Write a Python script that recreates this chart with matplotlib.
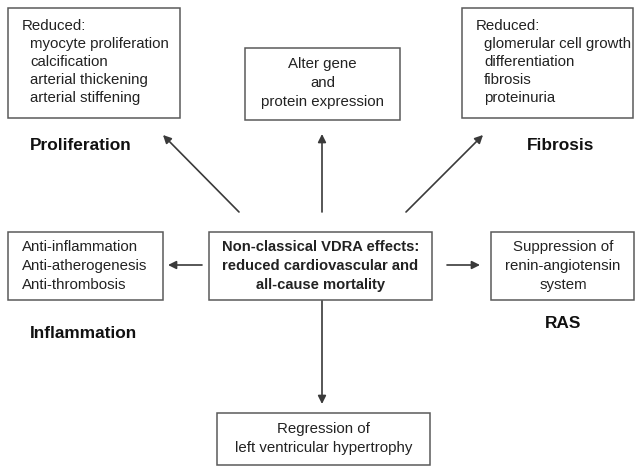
import matplotlib
matplotlib.use("Agg")
import matplotlib.pyplot as plt
from matplotlib.patches import Rectangle, FancyArrowPatch

plt.rcParams['font.family'] = ['Liberation Sans', 'DejaVu Sans']

# ---- content ----
center_text = ["Non-classical VDRA effects:", "reduced cardiovascular and", "all-cause mortality"]
prolif_lines = ["Reduced:", "myocyte proliferation", "calcification", "arterial thickening", "arterial stiffening"]
gene_lines = ["Alter gene", "and", "protein expression"]
fibrosis_lines = ["Reduced:", "glomerular cell growth", "differentiation", "fibrosis", "proteinuria"]
inflam_lines = ["Anti-inflammation", "Anti-atherogenesis", "Anti-thrombosis"]
ras_lines = ["Suppression of", "renin-angiotensin", "system"]
lvh_lines = ["Regression of", "left ventricular hypertrophy"]
category_labels = ["Proliferation", "Fibrosis", "Inflammation", "RAS"]

W, H = 640, 467
fig = plt.figure(figsize=(6.4, 4.67), dpi=100)
ax = fig.add_axes([0, 0, 1, 1])
ax.set_xlim(0, W)
ax.set_ylim(H, 0)
ax.axis('off')

edge = '#5a5a5a'
tc = '#222222'
fs = 10.8

def box(x0, y0, x1, y1):
    ax.add_patch(Rectangle((x0, y0), x1 - x0, y1 - y0, fill=False,
                           edgecolor=edge, linewidth=1.1))

def lines(texts, x, ys, ha='left', bold=False, indent=None, size=fs):
    for i, (t, y) in enumerate(zip(texts, ys)):
        xx = x if (indent is None or i == 0) else x + indent
        ax.text(xx, y, t, ha=ha, va='center', fontsize=size, color=tc,
                fontweight='bold' if bold else 'normal')

def arrow(x0, y0, x1, y1):
    ax.add_patch(FancyArrowPatch((x0, y0), (x1, y1), arrowstyle='-|>',
                                 mutation_scale=12, color='#3a3a3a',
                                 linewidth=1.2, shrinkA=0, shrinkB=0))

# top-left box
box(8, 8, 180, 118)
lines(prolif_lines, 22, [26, 44, 62, 80, 98], indent=8)
# top-middle box
box(245, 48, 400, 120)
lines(gene_lines, 322.5, [64, 83, 102], ha='center')
# top-right box
box(462, 8, 633, 118)
lines(fibrosis_lines, 476, [26, 44, 62, 80, 98], indent=8)

# middle row
box(8, 232, 163, 300)
lines(inflam_lines, 22, [247, 266, 285])
box(209, 232, 432, 300)
lines(center_text, 320.5, [247, 266, 285], ha='center', bold=True, size=10.6)
box(491, 232, 634, 300)
lines(ras_lines, 563, [247, 266, 285], ha='center')

# bottom box
box(217, 413, 430, 465)
lines(lvh_lines, 323.5, [429, 448], ha='center')

# category labels
cat_pos = [(30, 146), (527, 146), (30, 333), (545, 323)]
for lab, (x, y) in zip(category_labels, cat_pos):
    ax.text(x, y, lab, ha='left', va='center', fontsize=12.4,
            fontweight='bold', color='#111111')

# arrows
arrow(239, 212, 163, 135)
arrow(322, 212, 322, 134)
arrow(406, 212, 483, 135)
arrow(202, 265, 168, 265)
arrow(447, 265, 480, 265)
arrow(322, 301, 322, 404)

fig.savefig('out.png', dpi=100, facecolor='white')
